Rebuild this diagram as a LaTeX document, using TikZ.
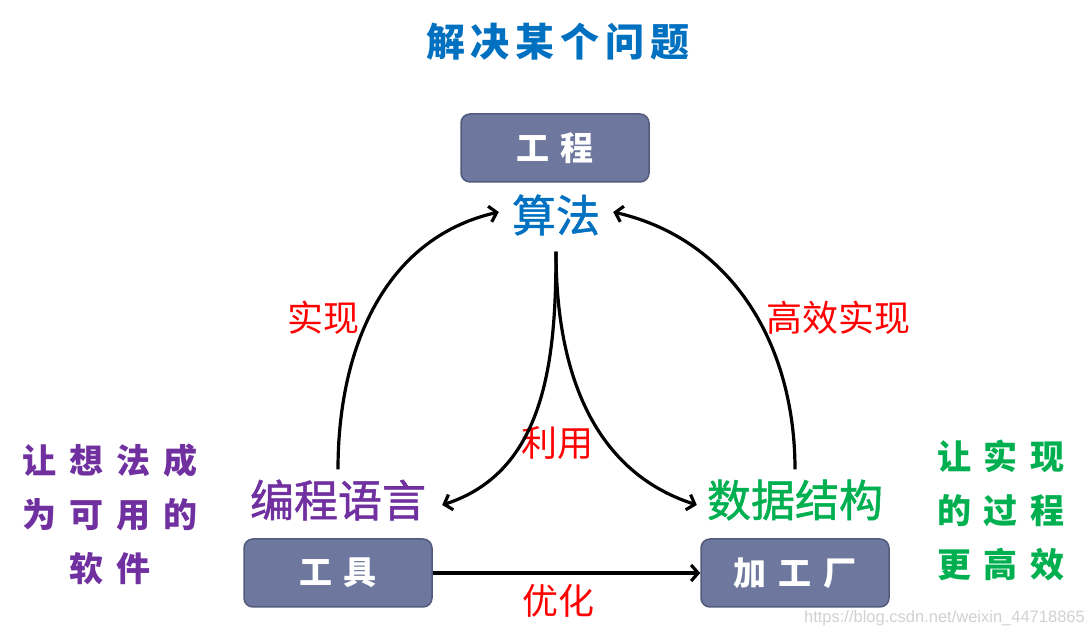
\documentclass[tikz,border=0pt]{standalone}
\usepackage{fontspec}
\setmainfont{Noto Sans CJK SC}
\newfontfamily\heavy{Noto Sans CJK SC}[FakeBold=1.2]
\newfontfamily\wmfont{Liberation Sans}
\usetikzlibrary{arrows.meta}
\definecolor{tblue}{HTML}{0070C0}
\definecolor{tpurple}{HTML}{7030A0}
\definecolor{tgreen}{HTML}{00B050}
\definecolor{tred}{HTML}{FF0000}
\definecolor{boxfill}{HTML}{6E789E}
\definecolor{boxline}{HTML}{525B7C}
\newcommand\tg{\hspace{6pt}}
\newcommand\bg{\hspace{12pt}}
\newcommand\sg{\hspace{13pt}}
\tikzset{
  boxnode/.style={draw=boxline, line width=1.5pt, fill=boxfill, rounded corners=9pt,
    minimum width=188pt, minimum height=68pt, text=white, inner sep=0pt,
    font=\fontsize{33}{33}\selectfont\bfseries},
  bignode/.style={font=\heavy\fontsize{44}{44}\selectfont, inner sep=0pt},
  lab/.style={text=tred, font=\fontsize{36}{36}\selectfont, inner sep=0pt},
  side/.style={font=\fontsize{34}{54}\selectfont\bfseries, align=center, inner sep=0pt},
  arr/.style={line width=3.2pt, -{Straight Barb[length=7pt,width=16pt]}},
}
\begin{document}
\begin{tikzpicture}[x=1pt,y=1pt]
\useasboundingbox (0,0) rectangle (1092,636);
\node[text=tblue, font=\fontsize{39}{39}\selectfont\bfseries, inner sep=0pt] (title) at (558,594) {解\tg 决\tg 某\tg 个\tg 问\tg 题};
\node[boxnode] (eng) at (555,488) {工\bg 程};
\node[bignode, text=tblue] (alg) at (556,421) {算法};
\node[bignode, text=tpurple] (pl) at (338,136) {编程语言};
\node[bignode, text=tgreen] (ds) at (795,136) {数据结构};
\node[boxnode] (tool) at (338,63) {工\bg 具};
\node[boxnode] (fac) at (795,63) {加\bg 工\bg 厂};
\node[side, text=tpurple] (lside) at (110,122) {让\sg 想\sg 法\sg 成\\为\sg 可\sg 用\sg 的\\软\sg 件};
\node[side, text=tgreen] (rside) at (1001,126) {让\sg 实\sg 现\\的\sg 过\sg 程\\更\sg 高\sg 效};
\node[lab] (l1) at (323,318) {实现};
\node[lab] (l2) at (838,318) {高效实现};
\node[lab] (l3) at (557,193) {利用};
\node[lab] (l4) at (558,35) {优化};
\node[anchor=east, text=black!18, font=\wmfont\fontsize{16.5}{16.5}\selectfont, inner sep=0pt] (wm) at (1085,18) {https://blog.csdn.net/weixin\_44718865};
\draw[arr] ([yshift=10pt]pl.north) to[out=90, in=193] ([xshift=-13pt,yshift=3pt]alg.west);
\draw[arr] ([yshift=10pt]ds.north) to[out=90, in=-13] ([xshift=13pt,yshift=3pt]alg.east);
\draw[arr] ([yshift=-16pt]alg.south) to[out=-90, in=18] ([xshift=16pt,yshift=-5pt]pl.east);
\draw[arr] ([yshift=-16pt]alg.south) to[out=-90, in=162] ([xshift=-10pt,yshift=-5pt]ds.west);
\draw[arr] (tool) -- (fac);
\end{tikzpicture}
\end{document}
